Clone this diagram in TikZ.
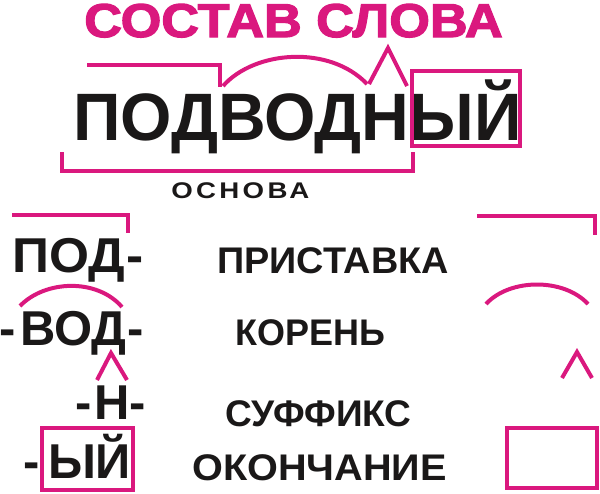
\documentclass[tikz,border=0pt]{standalone}
\usepackage{fontspec}
\setmainfont{Liberation Sans}
\newfontfamily\heavyfont[FakeBold=2.5]{Liberation Sans Bold}
\newfontfamily\spacedfont[LetterSpace=12]{Liberation Sans Bold}
\usepackage{xcolor}
\definecolor{morph}{RGB}{218,24,126}
\definecolor{ink}{RGB}{26,24,24}
\tikzset{
  morphline/.style={draw=morph, line width=3pt},
  wordtext/.style={anchor=base west, inner sep=0pt, text=ink, font=\bfseries\fontsize{36.7}{40}\selectfont},
  labeltext/.style={anchor=base west, inner sep=0pt, text=ink, font=\bfseries\fontsize{27.8}{30}\selectfont}
}

\begin{document}
\begin{tikzpicture}[x=0.75pt,y=-0.75pt]
			\useasboundingbox (0,0) rectangle (600,493);
			
			% draw title
			\node[anchor=base west, inner sep=0pt, text=morph, xscale=1.1, font=\heavyfont\fontsize{35.6}{38}\selectfont] (title) at (84,37) {СОСТАВ СЛОВА};
			
			% draw big word
			\node[anchor=base west, inner sep=0pt, text=ink, xscale=0.985, font=\bfseries\fontsize{50.3}{54}\selectfont] (word) at (73,140) {ПОДВОДНЫЙ};
			\node[anchor=base west, inner sep=0pt, text=ink, xscale=1.22, font=\spacedfont\fontsize{17}{18}\selectfont] (stem) at (171,198) {ОСНОВА};
			
			% draw marks on the word
			\draw[morphline] (87,65) -- (220,65) -- (220,87);
			\draw[morphline] (223,86) .. controls (255,50) and (330,45) .. (367,84);
			\draw[morphline, line join=miter] (369,84) -- (388,48) -- (407,86);
			\draw[morphline] (412,71) rectangle (520,146);
			\draw[morphline] (62,152) -- (62,171) -- (413,171) -- (413,152);
			
			% draw parts
			\node[wordtext, xscale=1.05] (prefix) at (12,272) {ПОД\kern1pt-};
			\node[wordtext] (root) at (-1,345) {-\kern3.5pt ВОД\kern0.5pt-};
			\node[wordtext] (suffix) at (75.5,419) {-\kern1.9pt Н-};
			\node[wordtext] (ending) at (23.5,478) {-\kern6pt ЫЙ};
			
			\draw[morphline] (12,215) -- (128,215) -- (128,233);
			\draw[morphline] (20,306) .. controls (45,280) and (97,278) .. (122,307);
			\draw[morphline, line join=miter] (97,380) -- (111,353) -- (127,380);
			\draw[morphline] (42,428) rectangle (133,490);
			
			% draw names
			\node[labeltext, xscale=1.02] (prefixname) at (217,273) {ПРИСТАВКА};
			\node[labeltext, xscale=0.97] (rootname) at (235,345) {КОРЕНЬ};
			\node[labeltext] (suffixname) at (225,426) {СУФФИКС};
			\node[labeltext, xscale=1.07] (endingname) at (192,480) {ОКОНЧАНИЕ};
			
			% draw signs
			\draw[morphline] (477,216) -- (595,216) -- (595,235);
			\draw[morphline] (486,304) .. controls (510,278) and (564,278) .. (588,304);
			\draw[morphline, line join=miter] (562,378) -- (577,352) -- (592,378);
			\draw[morphline] (507,428) rectangle (597,488);
		
		\end{tikzpicture}
\end{document}
